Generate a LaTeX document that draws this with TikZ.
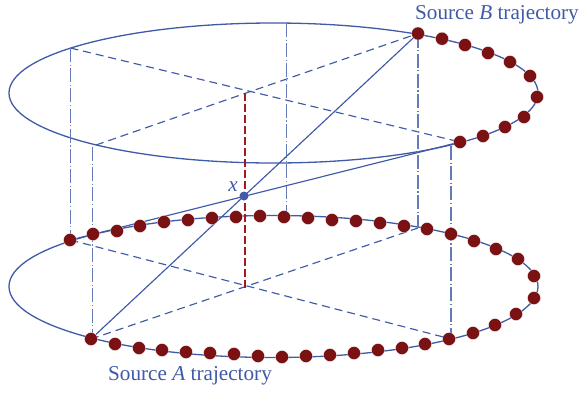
\documentclass[tikz,border=0pt]{standalone}
\usepackage{fontspec}
\setmainfont{Liberation Serif}
\usetikzlibrary{calc}
\definecolor{trajblue}{HTML}{3F5AA6}
\definecolor{srcred}{HTML}{7A1214}
\definecolor{plumbred}{HTML}{A31A1E}
\tikzset{
  traj/.style={draw=trajblue, line width=1.3pt},
  ray/.style={draw=trajblue, line width=1.15pt},
  chord/.style={draw=trajblue, line width=1.15pt, dash pattern=on 8pt off 5pt},
  riser/.style={draw=trajblue!80, line width=1.1pt, dash pattern=on 14pt off 2.5pt on 1.2pt off 2.5pt},
  plumb/.style={draw=plumbred, line width=1.3pt, dash pattern=on 8pt off 3pt},
  srcdot/.style={circle, fill=srcred, draw=white, line width=0.2pt, minimum size=13pt, inner sep=0pt},
  lbl/.style={font=\fontsize{21.2}{24}\selectfont, text=trajblue, inner sep=0pt},
}
\begin{document}
\begin{tikzpicture}[x=1pt,y=-1pt]
  \useasboundingbox (0,0) rectangle (579,392);
  % key points on the two circles
  \coordinate (bleft) at (70.4,48);
  \coordinate (bfront) at (96,145);
  \coordinate (bback) at (286.6,23);
  \coordinate (bstart) at (418,33.5);
  \coordinate (bend) at (460,142);
  \coordinate (bcross) at (245,93);
  \coordinate (aleft) at (70.4,240);
  \coordinate (afront) at (91,339);
  \coordinate (aback) at (286.6,217);
  \coordinate (atop) at (418,228);
  \coordinate (abot) at (451,339);
  \coordinate (across) at (245,288);
  \coordinate (bfoot) at (451,146);
  \coordinate (bside) at (92.4,147);
  \coordinate (aside) at (92.4,339);
  \coordinate (x) at (244,196);
  % circles
  \draw[traj] (273.5,93) ellipse [x radius=264.5, y radius=70];
  \draw[traj] (273.5,286.5) ellipse [x radius=264.5, y radius=71];
  % chords
  \draw[chord] (bleft) -- (bend);
  \draw[chord] (bfront) -- (bstart);
  \draw[chord] (aleft) -- (abot);
  \draw[chord] (afront) -- (atop);
  % vertical lines
  \draw[riser] (bleft) -- (aleft);
  \draw[riser] (bside) -- (aside);
  \draw[riser] (bback) -- (aback);
  \draw[riser] (bstart) -- (atop);
  \draw[riser] (bfoot) -- (abot);
  \draw[plumb] (bcross) -- (across);
  % rays through x
  \draw[ray] (bstart) -- (afront);
  \draw[ray] (bend) -- (aleft);
  % source positions
  \foreach \px/\py [count=\i] in {418/33.5,442/38.7,465/45,488/53,510/62,530/76,537/97,524/117,505/127,483/136,460/142}
    { \node[srcdot] (b\i) at (\px,\py) {}; }
  \foreach \px/\py [count=\i] in {70/240,93/234,117/231,140/226,164/222,188/220,212/218,236/217,260/216,284/217,308/218,332/220,356/221,380/223,404/226,427/229,451/234,474/241,496/249,518/259,534/276,534/298,516/314,495/325,473/333,449/339,425/344,402/348,378/350,354/353,330/355,306/356,282/357,258/356,234/354,210/353,186/352,162/350,139/348,115/344,91/339}
    { \node[srcdot] (a\i) at (\px,\py) {}; }
  \node[circle, fill=trajblue, minimum size=9pt, inner sep=0pt] (xdot) at (x) {};
  \node[lbl, font=\fontsize{21.2}{24}\selectfont\itshape] (xlbl) at (233,187) {x};
  \node[lbl] (srcb) at (497,14.5) {Source \textit{B} trajectory};
  \node[lbl] (srca) at (190,375.5) {Source \textit{A} trajectory};
\end{tikzpicture}
\end{document}
